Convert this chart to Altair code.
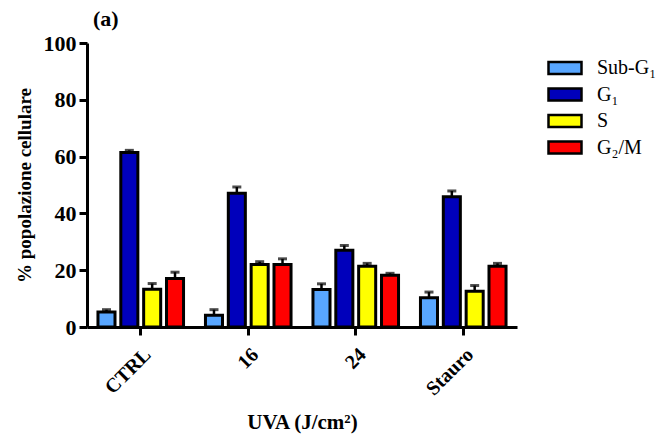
import altair as alt
import pandas as pd

categories = ["CTRL", "16", "24", "Stauro"]
phases = ["Sub-G₁", "G₁", "S", "G₂/M"]
colors = ["#58A6FF", "#0000BB", "#FFFF00", "#FF0000"]

sub_g1 = [5.3, 4.1, 13.2, 10.3]
sub_g1_err = [0.8, 2.0, 2.0, 2.0]
g1 = [61.4, 47.1, 27.0, 45.9]
g1_err = [0.8, 2.2, 1.7, 2.0]
s_phase = [13.3, 22.0, 21.4, 12.6]
s_phase_err = [2.0, 1.0, 1.0, 2.0]
g2m = [17.1, 22.0, 18.2, 21.4]
g2m_err = [2.2, 2.0, 0.7, 1.0]

rows = []
for name, vals, errs in zip(phases, [sub_g1, g1, s_phase, g2m],
                            [sub_g1_err, g1_err, s_phase_err, g2m_err]):
    for c, v, e in zip(categories, vals, errs):
        rows.append({"dose": c, "phase": name, "value": v, "top": v + e})
df = pd.DataFrame(rows)

FONT = "Liberation Serif"

x = alt.X("dose:N", sort=categories,
          scale=alt.Scale(paddingInner=0, paddingOuter=0),
          axis=alt.Axis(title="UVA (J/cm²)", labelAngle=-45, labelPadding=9,
                        titlePadding=13, labelFontSize=20, titleFontSize=21,
                        labelFont=FONT, titleFont=FONT, labelFontWeight="bold",
                        titleFontWeight="bold"))
xo = alt.XOffset("phase:N", sort=phases,
                 scale=alt.Scale(domain=phases, paddingInner=0.254, paddingOuter=0.48))
color = alt.Color("phase:N", sort=phases,
                  scale=alt.Scale(domain=phases, range=colors),
                  legend=alt.Legend(title=None, orient="none", legendX=460, legendY=15,
                                    symbolType="M-1,-0.36L1,-0.36L1,0.36L-1,0.36Z",
                                    symbolSize=1089, symbolStrokeColor="black",
                                    symbolStrokeWidth=2.5, symbolOpacity=1,
                                    labelFont=FONT, labelFontSize=20,
                                    labelFontWeight="normal", labelColor="black",
                                    clipHeight=20, rowPadding=6.5, labelOffset=14))

y_axis = alt.Axis(title="% popolazione cellulare", values=[0, 20, 40, 60, 80, 100],
                  labelFontSize=22, titleFontSize=19, titlePadding=9, labelPadding=3,
                  labelFont=FONT, titleFont=FONT, labelFontWeight="bold",
                  titleFontWeight="bold")

bars = alt.Chart(df).mark_bar(stroke="black", strokeWidth=3, opacity=1).encode(
    x=x, xOffset=xo,
    y=alt.Y("value:Q", scale=alt.Scale(domain=[0, 100]), axis=y_axis),
    color=color,
)
err = alt.Chart(df).mark_rule(color="black", strokeWidth=2.5).encode(
    x=x, xOffset=xo, y="value:Q", y2="top:Q")
caps = alt.Chart(df).mark_tick(color="black", thickness=3, size=9, orient="horizontal").encode(
    x=x, xOffset=xo, y="top:Q")

chart = alt.layer(err, caps, bars).properties(
    width=430, height=284,
    padding={"left": 7, "top": 0, "right": 2, "bottom": 2},
    title=alt.TitleParams("(a)", anchor="start", frame="group", font=FONT, fontSize=22,
                          fontWeight="bold", color="black", dx=6, offset=1),
).configure_view(stroke=None).configure_axis(
    grid=False, domainColor="black", domainWidth=3, tickColor="black", tickWidth=3,
    tickSize=8, labelFont=FONT, labelFontWeight="bold", labelColor="black",
    titleFont=FONT, titleFontWeight="bold", titleColor="black",
)

chart.save("out.html", embed_options={"renderer": "svg", "actions": False})
